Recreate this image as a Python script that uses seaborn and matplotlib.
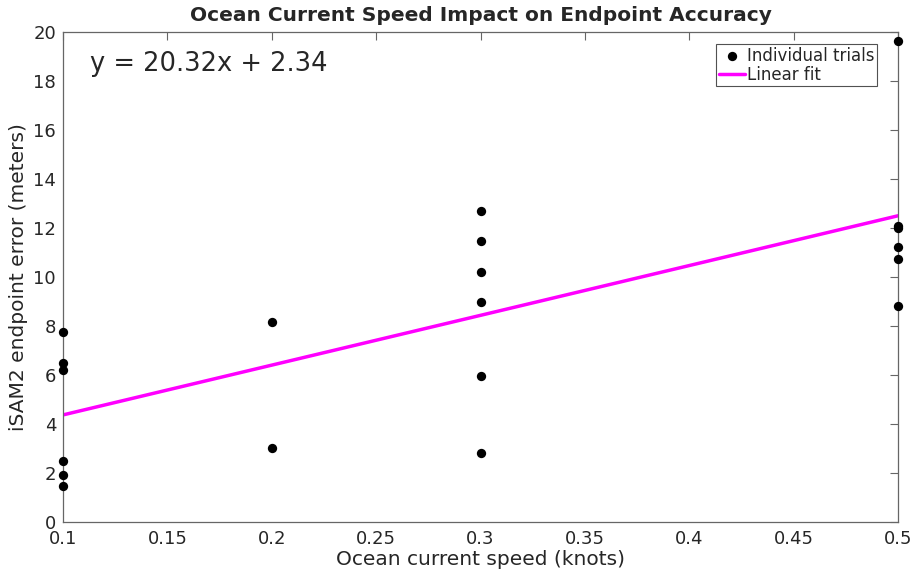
import numpy as np
import pandas as pd
import matplotlib
matplotlib.use("Agg")
import matplotlib.pyplot as plt
import seaborn as sns

speed = [0.1, 0.1, 0.1, 0.1, 0.1, 0.1,
         0.2, 0.2,
         0.3, 0.3, 0.3, 0.3, 0.3, 0.3,
         0.5, 0.5, 0.5, 0.5, 0.5, 0.5]
error = [7.74, 6.48, 6.20, 2.48, 1.93, 1.48,
         8.15, 3.01,
         12.71, 11.47, 10.20, 8.97, 5.97, 2.80,
         19.65, 12.10, 11.99, 11.24, 10.73, 8.83]
fit_slope = 20.32
fit_intercept = 2.34
xticks = [0.1, 0.15, 0.2, 0.25, 0.3, 0.35, 0.4, 0.45, 0.5]
yticks = list(range(0, 21, 2))

sns.set_style("white")
plt.rcParams['font.family'] = ['DejaVu Sans']

df = pd.DataFrame({"speed": speed, "error": error})
fit_x = np.array([min(speed), max(speed)])
fit_df = pd.DataFrame({"speed": fit_x, "error": fit_slope * fit_x + fit_intercept})

fig = plt.figure(figsize=(9.15, 5.81), dpi=100)
ax = fig.add_axes([0.0689, 0.1015, 0.9125, 0.8434])

sns.lineplot(data=fit_df, x="speed", y="error", ax=ax, color="#ff00ff",
             linewidth=2.5, label="Linear fit", zorder=2)
sns.scatterplot(data=df, x="speed", y="error", ax=ax, color="black", s=45,
                edgecolor="black", linewidth=0, label="Individual trials",
                zorder=3, clip_on=False)

ax.set_xlim(0.1, 0.5)
ax.set_ylim(0, 20)
ax.set_xticks(xticks)
ax.set_xticklabels([f"{t:g}" for t in xticks])
ax.set_yticks(yticks)
ax.tick_params(direction="in", length=6, width=0.8, color="#666666",
               labelcolor="#262626", labelsize=13, top=True, right=True)
ax.tick_params(axis="x", pad=6)
ax.tick_params(axis="y", pad=5)
for s in ax.spines.values():
    s.set_color("#666666")
    s.set_linewidth(0.9)

ax.set_xlabel("Ocean current speed (knots)", fontsize=14.5, color="#262626", labelpad=1)
ax.set_ylabel("iSAM2 endpoint error (meters)", fontsize=14.5, color="#262626", labelpad=4)
ax.set_title("Ocean Current Speed Impact on Endpoint Accuracy", fontsize=14.5,
             fontweight="bold", pad=8)

ax.text(0.032, 0.935, f"y = {fit_slope:.2f}x + {fit_intercept:.2f}",
        transform=ax.transAxes, fontsize=18.5, va="center", ha="left")

handles, labels = ax.get_legend_handles_labels()
order = [labels.index("Individual trials"), labels.index("Linear fit")]
leg = ax.legend([handles[i] for i in order], [labels[i] for i in order],
                loc="upper right", bbox_to_anchor=(0.981, 0.985), fontsize=12,
                frameon=True, fancybox=False, edgecolor="#262626",
                borderpad=0.15, handlelength=1.6, handletextpad=0.1,
                labelspacing=0.05, borderaxespad=0.3)
leg.get_frame().set_linewidth(0.8)

fig.savefig("out.png", dpi=100)
